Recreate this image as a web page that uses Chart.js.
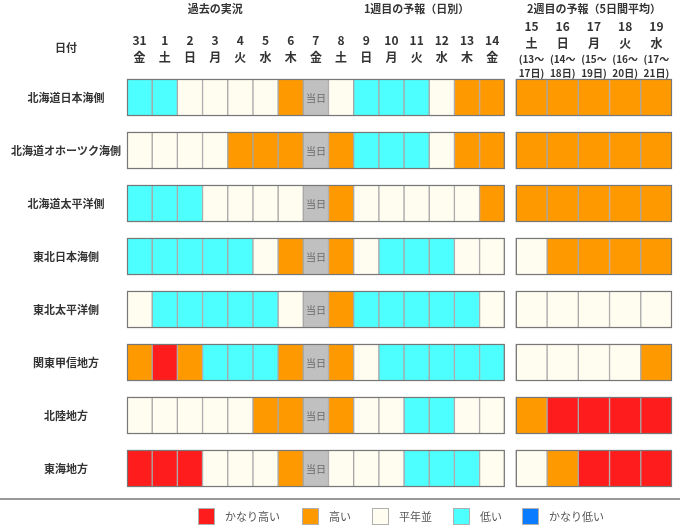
<!DOCTYPE html>
<html>
<head>
<meta charset="utf-8">
<script src="https://cdn.jsdelivr.net/npm/chart.js@4.4.0/dist/chart.umd.min.js"></script>
<style>
    html, body { margin: 0; padding: 0; background: #fff; }
</style>
</head>
<body>
<canvas id="myChart" width="680" height="531"></canvas>
<script>
// rows
const regions = ['北海道日本海側', '北海道オホーツク海側', '北海道太平洋側', '東北日本海側',
    '東北太平洋側', '関東甲信地方', '北陸地方', '東海地方'];

// columns
const days = ['31', '1', '2', '3', '4', '5', '6', '7', '8', '9', '10', '11', '12', '13', '14',
    '15', '16', '17', '18', '19'];
const weekdays = ['金', '土', '日', '月', '火', '水', '木', '金', '土', '日', '月', '火', '水', '木', '金',
    '土', '日', '月', '火', '水'];
const periodFrom = ['13', '14', '15', '16', '17'];
const periodTo = ['17', '18', '19', '20', '21'];
const todayIndex = 7;

// 2 = かなり高い, 1 = 高い, 0 = 平年並, -1 = 低い, -2 = かなり低い, null = 当日
const hokkaidoJapanSea = [-1, -1, 0, 0, 0, 0, 1, null, 0, -1, -1, -1, 0, 1, 1, 1, 1, 1, 1, 1];
const hokkaidoOkhotsk = [0, 0, 0, 0, 1, 1, 1, null, 1, -1, -1, -1, 0, 1, 1, 1, 1, 1, 1, 1];
const hokkaidoPacific = [-1, -1, -1, 0, 0, 0, 0, null, 1, 0, 0, 0, 0, 0, 1, 1, 1, 1, 1, 1];
const tohokuJapanSea = [-1, -1, -1, -1, -1, 0, 1, null, 1, 0, -1, -1, -1, 0, 0, 0, 1, 1, 1, 1];
const tohokuPacific = [0, -1, -1, -1, -1, -1, 0, null, 1, -1, -1, -1, -1, -1, 0, 0, 0, 0, 0, 0];
const kantoKoshin = [1, 2, 1, -1, -1, -1, 1, null, 1, 0, -1, -1, -1, -1, -1, 0, 0, 0, 0, 1];
const hokuriku = [0, 0, 0, 0, 0, 1, 1, null, 1, 0, 0, -1, -1, 0, 0, 1, 2, 2, 2, 2];
const tokai = [2, 2, 2, 0, 0, 0, 1, null, 0, 0, 0, -1, -1, -1, 0, 0, 1, 2, 2, 2];

const rows = [hokkaidoJapanSea, hokkaidoOkhotsk, hokkaidoPacific, tohokuJapanSea,
    tohokuPacific, kantoKoshin, hokuriku, tokai];

const legendLabels = ['かなり高い', '高い', '平年並', '低い', 'かなり低い'];
const legendValues = [2, 1, 0, -1, -2];

const FONT = "'Noto Sans CJK JP', 'Noto Sans', sans-serif";
const colors = { '2': '#ff1c1c', '1': '#ff9900', '0': '#fffdf0', '-1': '#4dffff', '-2': '#0a7cff' };
const todayColor = '#c0c0c0';

// week 1 cells are 1 unit wide, week 2 cells are wider, with a gap between
const GAP = 0.44;
const WIDE = 1.24;

function colStart(i) {
    return i < 15 ? i : 15 + GAP + (i - 15) * WIDE;
}
function colEnd(i) {
    return i < 15 ? i + 1 : colStart(i) + WIDE;
}
function colorOf(v) {
    return v === null ? todayColor : colors[v];
}

const datasets = days.map(function (d, i) {
    return {
        label: d,
        data: rows.map(r => [colStart(i), colEnd(i)]),
        backgroundColor: rows.map(r => colorOf(r[i])),
        borderColor: '#a8a8a8',
        borderWidth: 1,
        borderSkipped: false,
        grouped: false,
        barThickness: 37
    };
});

const gridText = {
    id: 'gridText',
    afterDatasetsDraw(chart) {
        const ctx = chart.ctx;
        const x = chart.scales.x;
        const y = chart.scales.y;
        ctx.save();

        // outer frames of each group
        ctx.strokeStyle = '#777';
        ctx.lineWidth = 1.2;
        for (let r = 0; r < regions.length; r++) {
            const cy = y.getPixelForValue(r);
            const x0 = x.getPixelForValue(colStart(0));
            const x1 = x.getPixelForValue(colEnd(14));
            const x2 = x.getPixelForValue(colStart(15));
            const x3 = x.getPixelForValue(colEnd(19));
            ctx.strokeRect(x0 + 0.5, cy - 18, x1 - x0 - 1, 36);
            ctx.strokeRect(x2 + 0.5, cy - 18, x3 - x2 - 1, 36);

            // today marker
            const tx = x.getPixelForValue((colStart(todayIndex) + colEnd(todayIndex)) / 2);
            ctx.fillStyle = '#6a6a6a';
            ctx.font = '10px ' + FONT;
            ctx.textAlign = 'center';
            ctx.textBaseline = 'middle';
            ctx.fillText('当日', tx, cy + 1);
        }

        // header
        ctx.fillStyle = '#333';
        ctx.textAlign = 'center';
        ctx.textBaseline = 'middle';
        ctx.font = 'bold 11px ' + FONT;
        ctx.fillText('過去の実況', x.getPixelForValue(3.5), 9);
        ctx.fillText('1週目の予報（日別）', x.getPixelForValue(11.5), 9);
        ctx.fillText('2週目の予報（5日間平均）', x.getPixelForValue((colStart(15) + colEnd(19)) / 2), 9);
        ctx.fillText('日付', 66, 48);

        for (let i = 0; i < days.length; i++) {
            const cx = x.getPixelForValue((colStart(i) + colEnd(i)) / 2);
            ctx.font = 'bold 12px ' + FONT;
            if (i < 15) {
                ctx.fillText(days[i], cx, 40);
                ctx.fillText(weekdays[i], cx, 57);
            } else {
                ctx.fillText(days[i], cx, 26);
                ctx.fillText(weekdays[i], cx, 43);
                ctx.font = 'bold 10px ' + FONT;
                ctx.fillText('(' + periodFrom[i - 15] + '～', cx, 59);
                ctx.fillText(periodTo[i - 15] + '日)', cx, 73);
            }
        }

        // separator line
        ctx.strokeStyle = '#999';
        ctx.lineWidth = 2;
        ctx.beginPath();
        ctx.moveTo(0, 499);
        ctx.lineTo(680, 499);
        ctx.stroke();

        // legend
        const boxX = [198, 302, 372, 453, 522];
        ctx.font = '11px ' + FONT;
        ctx.textAlign = 'left';
        for (let k = 0; k < legendLabels.length; k++) {
            ctx.fillStyle = colors[legendValues[k]];
            ctx.fillRect(boxX[k], 508, 17, 17);
            ctx.strokeStyle = '#b0b0b0';
            ctx.lineWidth = 1;
            ctx.strokeRect(boxX[k] + 0.5, 508.5, 16, 16);
            ctx.fillStyle = '#555';
            ctx.fillText(legendLabels[k], boxX[k] + 27, 517);
        }
        ctx.restore();
    }
};

const ctx = document.getElementById('myChart').getContext('2d');
const myChart = new Chart(ctx, {
    type: 'bar',
    data: {
        labels: regions,
        datasets: datasets
    },
    options: {
        indexAxis: 'y',
        responsive: false,
        animation: false,
        devicePixelRatio: 1,
        layout: {
            padding: { top: 71, bottom: 36, left: 0, right: 8 }
        },
        plugins: {
            legend: { display: false },
            tooltip: { enabled: false }
        },
        scales: {
            x: {
                type: 'linear',
                display: false,
                min: 0,
                max: colEnd(19)
            },
            y: {
                type: 'category',
                grid: { display: false, drawTicks: false },
                border: { display: false },
                ticks: {
                    crossAlign: 'center',
                    padding: 6,
                    color: '#333',
                    font: { family: FONT, size: 11, weight: 'bold' }
                },
                afterFit: function (axis) {
                    axis.width = 127;
                }
            }
        }
    },
    plugins: [gridText]
});
</script>
</body>
</html>
